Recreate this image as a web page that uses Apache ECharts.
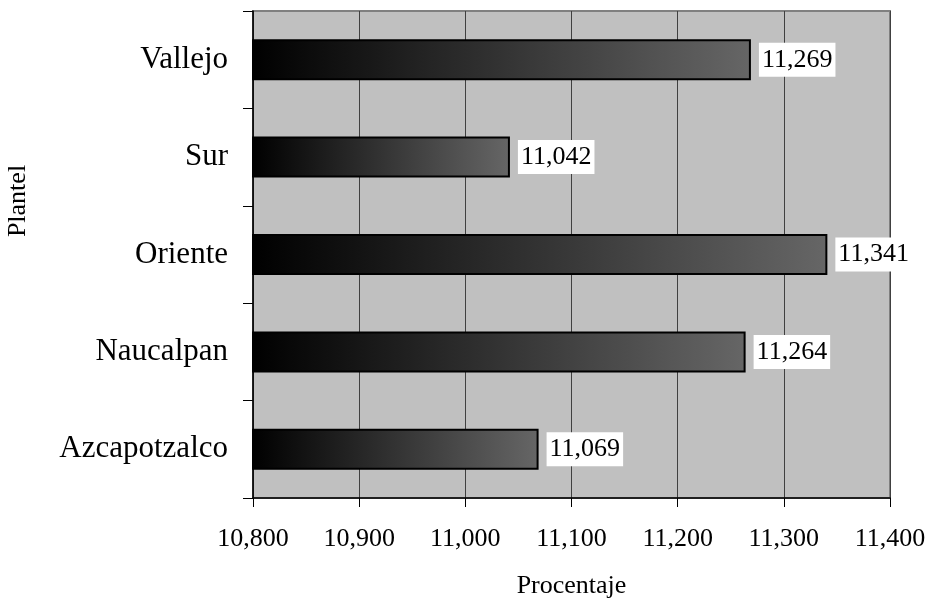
<!DOCTYPE html>
<html>
<head>
<meta charset="utf-8">
<script src="https://cdn.jsdelivr.net/npm/echarts@6/dist/echarts.min.js"></script>
<style>
html,body{margin:0;padding:0;background:#fff;}
#chart{width:930px;height:604px;}
</style>
</head>
<body>
<div id="chart"></div>
<script>
const categories = ['Azcapotzalco', 'Naucalpan', 'Oriente', 'Sur', 'Vallejo'];
const values = [11069, 11264, 11341, 11042, 11269];
const xTicks = { min: 10800, max: 11400, interval: 100 };
const xAxisTitle = 'Procentaje';
const yAxisTitle = 'Plantel';

const FONT = "'Liberation Serif', 'Times New Roman', serif";
const fmt = v => {
  const s = String(Math.round(v));
  return s.replace(/\B(?=(\d{3})+(?!\d))/g, ',');
};

const chart = echarts.init(document.getElementById('chart'), null, { renderer: 'canvas' });
chart.setOption({
  animation: false,
  backgroundColor: '#ffffff',
  grid: {
    left: 253, right: 40, top: 11, bottom: 102,
    show: true, backgroundColor: '#c0c0c0', borderColor: '#808080', borderWidth: 2
  },
  xAxis: {
    type: 'value',
    min: xTicks.min, max: xTicks.max, interval: xTicks.interval,
    axisLine: { show: true, lineStyle: { color: '#000', width: 1.5 } },
    axisTick: { show: true, length: 9, lineStyle: { color: '#000', width: 1 } },
    splitLine: { show: true, lineStyle: { color: '#404040', width: 1 } },
    axisLabel: { color: '#000', fontSize: 26, fontFamily: FONT, margin: 28, formatter: fmt },
    name: xAxisTitle, nameLocation: 'middle', nameGap: 75,
    nameTextStyle: { color: '#000', fontSize: 26, fontFamily: FONT }
  },
  yAxis: {
    type: 'category',
    data: categories,
    axisLine: { show: true, lineStyle: { color: '#000', width: 1.5 } },
    axisTick: { show: true, length: 10, lineStyle: { color: '#000', width: 1 } },
    axisLabel: { color: '#000', fontSize: 31, fontFamily: FONT, margin: 25 },
    splitLine: { show: false }
  },
  graphic: [{
    type: 'text',
    x: 18, y: 201,
    rotation: Math.PI / 2,
    style: {
      text: yAxisTitle, fill: '#000', font: '26px ' + FONT,
      align: 'center', verticalAlign: 'middle'
    }
  }],
  series: [{
    type: 'bar',
    data: values,
    barWidth: 41,
    itemStyle: {
      color: new echarts.graphic.LinearGradient(0, 0, 1, 0, [
        { offset: 0, color: '#000000' },
        { offset: 1, color: '#666666' }
      ]),
      borderColor: '#000',
      borderWidth: 2
    },
    label: {
      show: true, position: 'right', distance: 8,
      color: '#000', fontSize: 26, fontFamily: FONT,
      backgroundColor: '#ffffff', padding: [4, 3, 4, 3],
      formatter: p => fmt(p.value)
    }
  }]
});
</script>
</body>
</html>
